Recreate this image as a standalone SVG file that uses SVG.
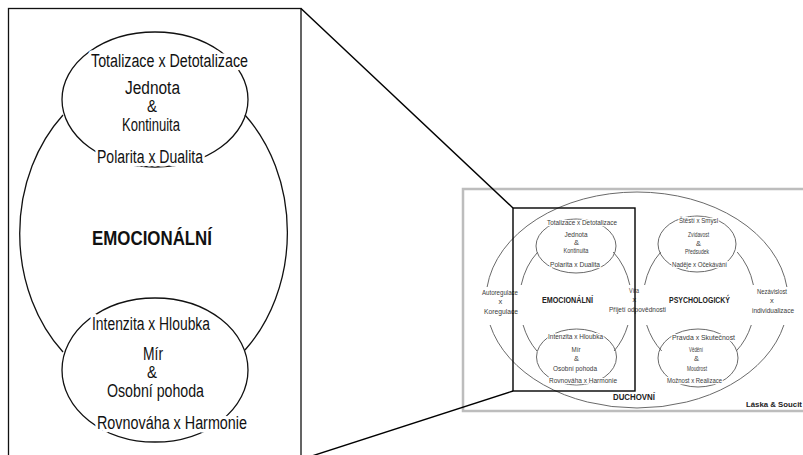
<svg xmlns="http://www.w3.org/2000/svg" width="803" height="455" viewBox="0 0 803 455">
<style>
.bg{fill:#fff}
.ln{fill:none;stroke:#111;stroke-width:1.3}
.lns{fill:none;stroke:#6a6a6a;stroke-width:1}
.frame{fill:none;stroke:#bdbdbd;stroke-width:2.5}
.t{font-family:"Liberation Sans Narrow","Liberation Sans",Arial,sans-serif;font-size:18px;fill:#111;stroke:#fff;stroke-width:7;stroke-linejoin:round;paint-order:stroke}
.amp{font-size:16px}
.tb{font-weight:bold;font-size:21px}
.s{font-family:"Liberation Sans Narrow","Liberation Sans",Arial,sans-serif;font-size:7.5px;fill:#3a3a3a;stroke:#fff;stroke-width:2.5;stroke-linejoin:round;paint-order:stroke}
.sb{font-weight:bold;font-size:9.5px;fill:#222}
.zoom{fill:none;stroke:#000;stroke-width:1.4}
</style>
<rect class="bg" x="0" y="0" width="803" height="455"/>

<!-- right overview diagram -->
<g id="overview">
  <rect class="frame" x="463" y="189" width="360" height="222"/>
  <g id="duchovni">
    <path class="lns" d="M487.1 287 A151 108 0 0 1 786.9 287"/>
    <path class="lns" d="M490.1 325 A151 108 0 0 0 783.9 325"/>
    <text class="s sb" x="613" y="400" textLength="42" lengthAdjust="spacingAndGlyphs" style="font-size:8.5px">DUCHOVNÍ</text>
  </g>
  <g id="s-emocionalni">
    <path class="lns" d="M537.8 252 A56 67 0 0 0 521.2 285"/>
    <path class="lns" d="M523.1 325 A56 67 0 0 0 536.9 351"/>
    <path class="lns" d="M613.2 252 A56 67 0 0 1 629.8 285"/>
    <path class="lns" d="M627.9 325 A56 67 0 0 1 614.1 351"/>
    <ellipse class="lns" cx="576" cy="246" rx="40" ry="27"/>
    <ellipse class="lns" cx="576.5" cy="357" rx="40" ry="28"/>
    <text class="s" x="547" y="225" textLength="70" lengthAdjust="spacingAndGlyphs">Totalizace x Detotalizace</text>
    <text class="s" x="564.5" y="237" textLength="23" lengthAdjust="spacingAndGlyphs">Jednota</text>
    <text class="s" x="574" y="245" textLength="5" lengthAdjust="spacingAndGlyphs">&amp;</text>
    <text class="s" x="563.5" y="253" textLength="25" lengthAdjust="spacingAndGlyphs">Kontinuita</text>
    <text class="s" x="550" y="267" textLength="50" lengthAdjust="spacingAndGlyphs">Polarita x Dualita</text>
    <text class="s sb" x="542" y="303" textLength="51" lengthAdjust="spacingAndGlyphs">EMOCIONÁLNÍ</text>
    <text class="s" x="548" y="339" textLength="55" lengthAdjust="spacingAndGlyphs">Intenzita x Hloubka</text>
    <text class="s" x="571.5" y="352" textLength="9" lengthAdjust="spacingAndGlyphs">Mír</text>
    <text class="s" x="574" y="361" textLength="5" lengthAdjust="spacingAndGlyphs">&amp;</text>
    <text class="s" x="553" y="371" textLength="44" lengthAdjust="spacingAndGlyphs">Osobní pohoda</text>
    <text class="s" x="549" y="383" textLength="68" lengthAdjust="spacingAndGlyphs">Rovnováha x Harmonie</text>
  </g>
  <g id="s-psychologicky">
    <path class="lns" d="M660.8 252 A56 67 0 0 0 644.6 285"/>
    <path class="lns" d="M646.7 325 A56 67 0 0 0 661.7 351"/>
    <path class="lns" d="M737.2 252 A56 67 0 0 1 753.4 285"/>
    <path class="lns" d="M751.3 325 A56 67 0 0 1 736.3 351"/>
    <ellipse class="lns" cx="697" cy="244" rx="39" ry="28"/>
    <ellipse class="lns" cx="698" cy="358" rx="40" ry="29"/>
    <text class="s" x="679" y="223" textLength="39" lengthAdjust="spacingAndGlyphs">Štěstí x Smysl</text>
    <text class="s" x="688" y="237" textLength="21" lengthAdjust="spacingAndGlyphs">Zvídavost</text>
    <text class="s" x="696" y="246" textLength="5" lengthAdjust="spacingAndGlyphs">&amp;</text>
    <text class="s" x="685" y="254" textLength="24" lengthAdjust="spacingAndGlyphs">Předsudek</text>
    <text class="s" x="672" y="267" textLength="55" lengthAdjust="spacingAndGlyphs">Naděje x Očekávání</text>
    <text class="s sb" x="669" y="303" textLength="61" lengthAdjust="spacingAndGlyphs">PSYCHOLOGICKÝ</text>
    <text class="s" x="672" y="340" textLength="63" lengthAdjust="spacingAndGlyphs">Pravda x Skutečnost</text>
    <text class="s" x="689" y="352" textLength="14" lengthAdjust="spacingAndGlyphs">Vědění</text>
    <text class="s" x="694" y="361" textLength="5" lengthAdjust="spacingAndGlyphs">&amp;</text>
    <text class="s" x="687" y="371" textLength="20" lengthAdjust="spacingAndGlyphs">Moudrost</text>
    <text class="s" x="667" y="383" textLength="55" lengthAdjust="spacingAndGlyphs">Možnost x Realizace</text>
  </g>
  <g id="s-labels">
    <text class="s" x="482" y="295" textLength="36" lengthAdjust="spacingAndGlyphs">Autoregulace</text>
    <text class="s" x="498.5" y="304">x</text>
    <text class="s" x="484" y="314" textLength="34" lengthAdjust="spacingAndGlyphs">Koregulace</text>
    <text class="s" x="629" y="293" textLength="10" lengthAdjust="spacingAndGlyphs">Víra</text>
    <text class="s" x="632.5" y="302">x</text>
    <text class="s" x="609" y="312" textLength="57" lengthAdjust="spacingAndGlyphs">Přijetí odpovědnosti</text>
    <text class="s" x="757" y="294" textLength="30" lengthAdjust="spacingAndGlyphs">Nezávislost</text>
    <text class="s" x="770" y="303">x</text>
    <text class="s" x="752" y="313" textLength="42" lengthAdjust="spacingAndGlyphs">individualizace</text>
    <text class="s sb" x="746" y="407" style="font-size:7.8px;stroke-width:0">Láska &amp; Soucit</text>
  </g>
</g>

<!-- enlarged detail -->
<g id="detail">
  <rect class="ln" x="8.5" y="8.5" width="292.5" height="480"/>
  <g id="emocionalni">
    <path class="ln" d="M63 115 A134 161 0 0 0 63 352"/>
    <path class="ln" d="M245 115 A134 161 0 0 1 245 350"/>
    <text class="t tb" x="92" y="245" textLength="120" lengthAdjust="spacingAndGlyphs">EMOCIONÁLNÍ</text>
  </g>
  <g id="jednota">
    <ellipse class="ln" cx="155" cy="99.5" rx="93" ry="67.5"/>
    <text class="t" x="91" y="67" textLength="157" lengthAdjust="spacingAndGlyphs">Totalizace x Detotalizace</text>
    <text class="t" x="125" y="94" textLength="55" lengthAdjust="spacingAndGlyphs">Jednota</text>
    <text class="t amp" x="147" y="112" textLength="10" lengthAdjust="spacingAndGlyphs">&amp;</text>
    <text class="t" x="122" y="131" textLength="58" lengthAdjust="spacingAndGlyphs">Kontinuita</text>
    <text class="t" x="97" y="163" textLength="106" lengthAdjust="spacingAndGlyphs">Polarita x Dualita</text>
  </g>
  <g id="mir">
    <ellipse class="ln" cx="155" cy="370" rx="93" ry="72"/>
    <text class="t" x="92" y="330" textLength="118" lengthAdjust="spacingAndGlyphs">Intenzita x Hloubka</text>
    <text class="t" x="143" y="360" textLength="20" lengthAdjust="spacingAndGlyphs">Mír</text>
    <text class="t amp" x="147" y="378" textLength="10" lengthAdjust="spacingAndGlyphs">&amp;</text>
    <text class="t" x="107" y="397" textLength="97" lengthAdjust="spacingAndGlyphs">Osobní pohoda</text>
    <text class="t" x="97" y="429" textLength="150" lengthAdjust="spacingAndGlyphs">Rovnováha x Harmonie</text>
  </g>
</g>

<g id="connectors">
  <rect class="zoom" x="513" y="208" width="122" height="183"/>
  <line class="zoom" x1="301" y1="8.5" x2="513" y2="208"/>
  <line class="zoom" x1="513" y1="391" x2="301" y2="459.5"/>
</g>
</svg>
